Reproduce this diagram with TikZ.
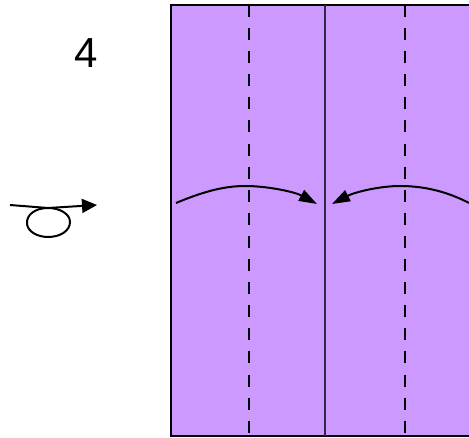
\documentclass[tikz,border=0pt]{standalone}
\usepackage{fontspec}
\setmainfont{Liberation Sans}
\usetikzlibrary{arrows.meta}
\definecolor{paperfill}{HTML}{CC99FF}
\tikzset{
  paper/.style={fill=paperfill,draw=none},
  edge/.style={line width=2.8pt,draw=black},
  foldline/.style={line width=2.6pt,draw=black,dash pattern=on 12pt off 11.1pt},
  centerline/.style={line width=1.5pt,draw=black!75!paperfill},
  foldarrow/.style={line width=2pt,draw=black,-{Triangle[length=18pt,width=12pt]}},
  hand/.style={line width=2pt,draw=black}
}
\begin{document}
\begin{tikzpicture}[x=1pt,y=-1pt]
\useasboundingbox (0,0) rectangle (469,438);
\fill[paperfill] (171,5) rectangle (469,436);
\coordinate (tl) at (171,5);
\coordinate (tr) at (469,5);
\coordinate (bl) at (171,436);
\coordinate (br) at (469,436);
\draw[edge] (tr) -- (tl) -- (bl) -- (br);
\coordinate (lt) at (249,5);
\coordinate (lb) at (249,434);
\coordinate (rt) at (405,5);
\coordinate (rb) at (405,434);
\draw[foldline] (lt) -- (lb);
\draw[foldline] (rt) -- (rb);
\coordinate (ct) at (325,5);
\coordinate (cb) at (325,436);
\draw[centerline] (ct) -- (cb);
\coordinate (a1) at (176,203);
\coordinate (a2) at (317,204);
\coordinate (b1) at (469,203);
\coordinate (b2) at (332,204);
\draw[foldarrow] (a1) .. controls (200,193) and (222,186) .. (245,186) .. controls (268,186) and (295,192) .. (a2);
\draw[foldarrow] (b1) .. controls (448,192) and (425,186) .. (400,186) .. controls (380,186) and (355,192) .. (b2);
\node[font=\fontsize{42}{42}\selectfont,inner sep=0pt] (num) at (86,53) {4};
\coordinate (h1) at (10,205);
\coordinate (h2) at (97,205);
\coordinate (h3) at (48,208);
\draw[hand,-{Triangle[length=15pt,width=14pt]}] (h1) -- (h3) -- (h2);
\draw[hand] (h3) .. controls (35,208) and (26,215) .. (27,224) .. controls (28,232) and (38,237) .. (48,237) .. controls (60,237) and (70,231) .. (70,222) .. controls (70,214) and (60,208) .. (h3);
\end{tikzpicture}
\end{document}
